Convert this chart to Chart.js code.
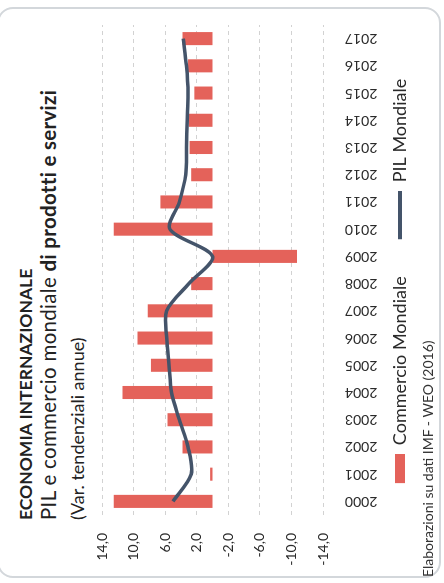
<!DOCTYPE html>
<html lang="it">
<head>
<meta charset="utf-8">
<title>Economia internazionale</title>
<script src="https://cdn.jsdelivr.net/npm/chart.js@4/dist/chart.umd.min.js"></script>
<style>
  html, body { margin: 0; padding: 0; background: #ffffff; overflow: hidden; }
  body { width: 444px; height: 583px; position: relative; }
  /* the panel is laid out upright (583 x 444) and turned a quarter turn counter-clockwise */
  #panel {
    position: absolute; left: 0; top: 0;
    width: 583px; height: 444px;
    transform-origin: 0 0;
    transform: translate(0px, 583px) rotate(-90deg);
    font-family: Lato, "Open Sans", sans-serif;
    color: #222222;
  }
  #frame {
    position: absolute; left: 5px; top: -3px;
    width: 571px; height: 444px;
    box-sizing: border-box;
    border: 2px solid #d3d7db;
    border-radius: 16px;
  }
  .line { position: absolute; left: 63px; white-space: nowrap; }
  #t1 { top: 16px; font-size: 17.5px; line-height: 20px; font-weight: 700; }
  #t2 { top: 37px; font-size: 20.5px; line-height: 22px; font-weight: 400; letter-spacing: 0.3px; }
  #t2 b { font-weight: 700; }
  #t3 { top: 67px; font-size: 18px; line-height: 20px; font-weight: 400; }
  #source { position: absolute; left: 6px; top: 419px; font-size: 14px; line-height: 18px; color: #333; white-space: nowrap; }
  canvas { position: absolute; left: 0; top: 0; }
</style>
</head>
<body>
<div id="panel">
  <div id="frame"></div>
  <div class="line" id="t1">ECONOMIA INTERNAZIONALE</div>
  <div class="line" id="t2">PIL e commercio mondiale <b>di prodotti e servizi</b></div>
  <div class="line" id="t3">(Var. tendenziali annue)</div>
  <canvas id="chart" width="583" height="444"></canvas>
  <div id="source">Elaborazioni su dati IMF - WEO (2016)</div>
</div>
<script>
// Years on the category axis
const anni = ['2000', '2001', '2002', '2003', '2004', '2005', '2006', '2007', '2008',
              '2009', '2010', '2011', '2012', '2013', '2014', '2015', '2016', '2017'];
// World trade in goods and services, yearly % change
const commercioMondiale = [12.5, 0.3, 3.8, 5.7, 11.4, 7.8, 9.5, 8.2, 2.7,
                           -10.7, 12.5, 6.6, 2.7, 2.9, 3.0, 2.3, 3.1, 3.8];
// World GDP, yearly % change
const pilMondiale = [5.0, 2.7, 3.1, 4.2, 5.2, 5.5, 5.8, 5.8, 3.0,
                     0.0, 5.4, 4.2, 3.4, 3.3, 3.2, 3.1, 3.3, 3.7];
// Value axis range and step
const valoreMin = -14;
const valoreMax = 14;
const passo = 4;

const coloreBarre = '#e4625a';
const coloreLinea = '#44546a';
const coloreTesto = '#2a2a2a';

// legend keys: a red block for the bars, a short thick stroke for the line
function chiave(w, h, draw) {
  const c = document.createElement('canvas');
  c.width = w; c.height = h;
  draw(c.getContext('2d'));
  return c;
}
const chiaveBarre = chiave(75, 12, g => { g.fillStyle = coloreBarre; g.fillRect(46, 1, 29, 10); });
const chiaveLinea = chiave(75, 12, g => { g.fillStyle = coloreLinea; g.fillRect(27, 4, 48, 4); });

new Chart(document.getElementById('chart'), {
  data: {
    labels: anni,
    datasets: [
      {
        type: 'bar',
        label: 'Commercio Mondiale',
        data: commercioMondiale,
        backgroundColor: coloreBarre,
        borderWidth: 0,
        categoryPercentage: 1,
        barPercentage: 0.48,
        order: 1
      },
      {
        type: 'line',
        label: 'PIL Mondiale',
        data: pilMondiale,
        borderColor: coloreLinea,
        borderWidth: 3.5,
        pointRadius: 0,
        tension: 0.3,
        fill: false,
        order: 0
      }
    ]
  },
  options: {
    responsive: false,
    animation: false,
    devicePixelRatio: 1,
    layout: { padding: { left: 0, right: 25, top: 102, bottom: 25 } },
    plugins: {
      tooltip: { enabled: false },
      legend: {
        position: 'bottom',
        labels: {
          usePointStyle: true,
          pointStyleWidth: 75,
          boxHeight: 12,
          padding: 10,
          color: coloreTesto,
          font: { family: 'Lato', size: 18 },
          generateLabels: chart => chart.data.datasets.map((ds, i) => ({
            text: ds.label,
            pointStyle: i === 0 ? chiaveBarre : chiaveLinea,
            fillStyle: 'transparent',
            strokeStyle: 'transparent',
            lineWidth: 0,
            hidden: false,
            datasetIndex: i,
            fontColor: coloreTesto
          }))
        }
      }
    },
    scales: {
      x: {
        grid: { display: false },
        border: { display: false },
        ticks: {
          minRotation: 90, maxRotation: 90,
          padding: 14,
          color: coloreTesto,
          font: { family: 'Lato', size: 14 }
        },
        afterFit: s => { s.height = 58; }
      },
      y: {
        min: valoreMin,
        max: valoreMax,
        grid: { color: '#d2d2d2', lineWidth: 1, drawTicks: false },
        border: { display: false, dash: [4, 4] },
        ticks: {
          stepSize: passo,
          padding: 18,
          color: coloreTesto,
          font: { family: 'Lato', size: 14 },
          callback: v => v.toFixed(1).replace('.', ',')
        },
        afterFit: s => { s.width = 68; }
      }
    }
  }
});
</script>
</body>
</html>
